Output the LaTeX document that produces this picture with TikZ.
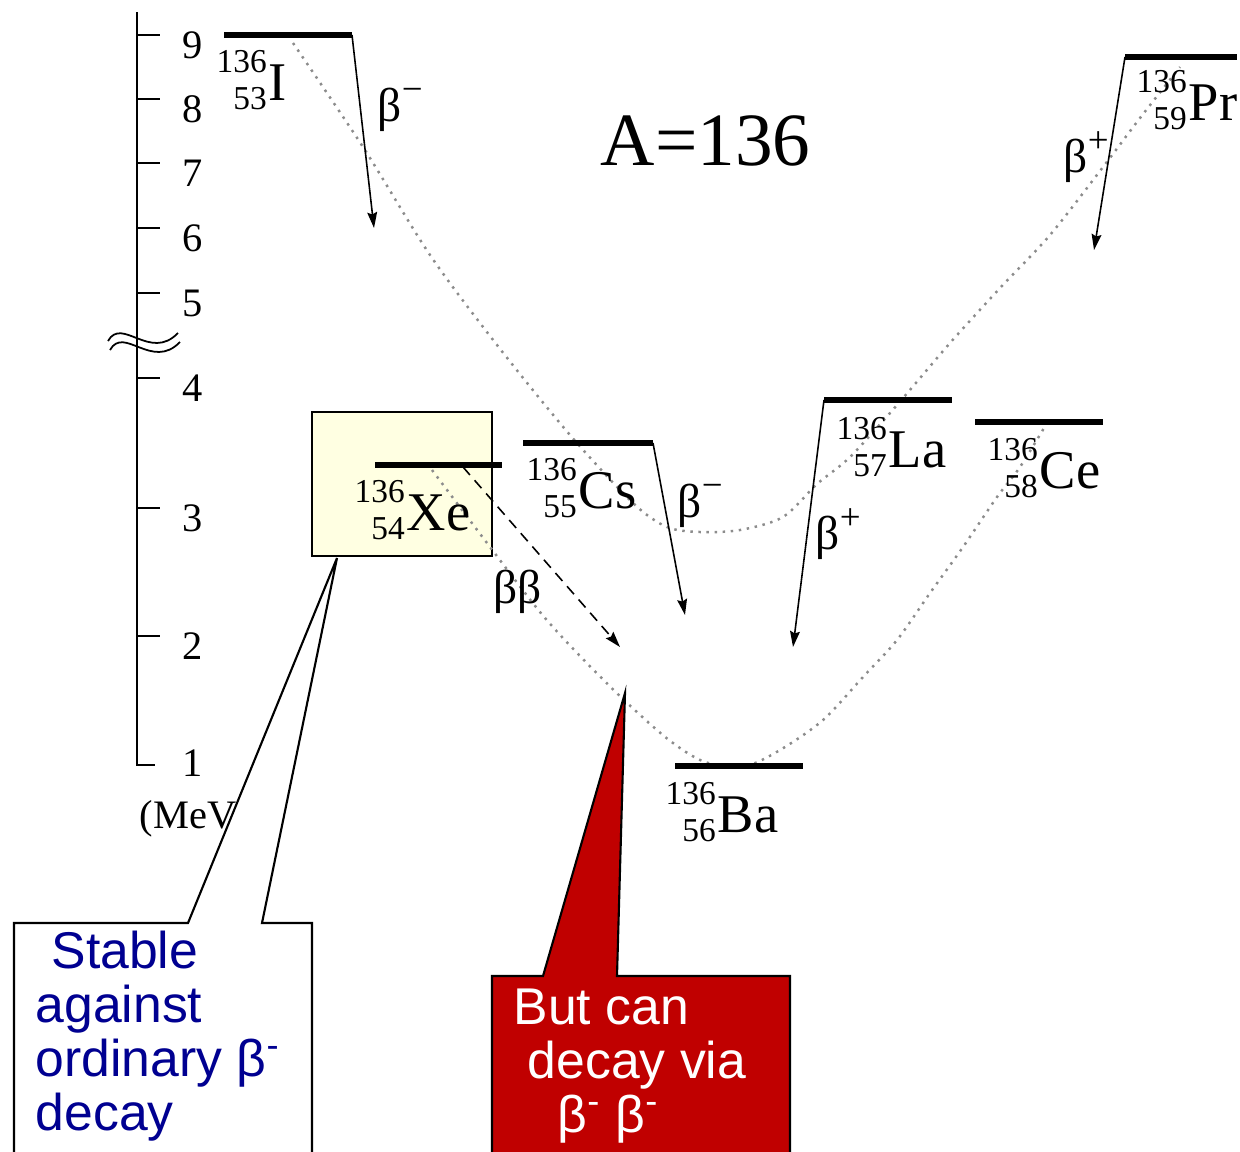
\documentclass[tikz,border=0pt]{standalone}
\usepackage{fontspec}
\setmainfont{Liberation Serif}
\newfontfamily\calloutfont{Liberation Sans}
\usetikzlibrary{arrows.meta}

\definecolor{xefill}{RGB}{255,255,226}
\definecolor{callblue}{RGB}{0,0,145}
\definecolor{callred}{RGB}{192,0,0}
\definecolor{parabgray}{RGB}{140,140,140}

\newcommand{\nuc}[3]{\raisebox{-2.8pt}{\fontsize{9.5}{10.5}\selectfont\begin{tabular}[b]{@{}r@{}}#1\\#2\end{tabular}}\kern0.6pt#3}
\newcommand{\bsup}[1]{β\raisebox{5.5pt}{\fontsize{10.5}{11}\selectfont#1}}

\begin{document}
\begin{tikzpicture}[
  x=0.01cm, y=-0.01cm,
  >={Stealth[length=4.5pt,width=2.8pt,inset=0.6pt]},
  level/.style={line width=1.7pt},
  decay/.style={->, line width=0.45pt},
  parab/.style={parabgray, line width=0.7pt, dash pattern=on 0.7pt off 1.6pt},
  nucl/.style={anchor=base west, inner sep=0pt, font=\fontsize{15.5}{17}\selectfont},
  blabel/.style={anchor=base west, inner sep=0pt, font=\fontsize{13.5}{15}\selectfont},
  axtick/.style={line width=0.6pt},
  ticklabel/.style={anchor=west, inner sep=0pt, font=\fontsize{11.5}{13}\selectfont},
  callout/.style={draw=black, line width=0.6pt},
  calltext/.style={anchor=base west, inner sep=0pt, align=left, font=\calloutfont\fontsize{14.7}{15.3}\selectfont}
]
  \useasboundingbox (0,0) rectangle (1240,1151);
  \clip (0,0) rectangle (1240,1151);

  \draw[axtick] (137,12) -- (137,765) -- (155,765);
  \foreach \v/\py in {9/35,8/99,7/163,6/228,5/293,4/378,3/508,2/636} {
    \draw[axtick] (137,\py) -- (160,\py);
    \node[ticklabel] (lab\v) at (182,\py+10) {\v};
  }
  \node[ticklabel] (lab1) at (182,763) {1};
  \node[ticklabel, anchor=base west] (unit) at (139,828) {(MeV)};
  \draw[line width=0.5pt] (108,341) .. controls (122,316) and (150,362) .. (178,333);
  \draw[line width=0.5pt] (110,350) .. controls (124,325) and (152,371) .. (180,342);

  \node[draw, line width=0.6pt, fill=xefill, minimum width=1.8cm, minimum height=1.44cm] (xebox) at (402,484) {};

  \draw[parab] plot[smooth, tension=0.5] coordinates {(293,43) (363,147) (430,255) (497,345) (570,435) (633,503) (667,527) (700,532) (740,530) (783,517) (817,484) (850,457) (897,405) (950,343) (1000,288) (1050,235) (1103,167) (1140,118) (1180,67)};
  \draw[parab] plot[smooth, tension=0.5] coordinates {(432,470) (487,543) (540,612) (579,655) (624,700) (669,740) (705,762) (745,766) (780,750) (823,720) (863,677) (897,640) (930,593) (963,547) (997,497) (1020,467) (1047,423)};

  \coordinate (I-l) at (224,35);  \coordinate (I-r) at (352,35);
  \coordinate (Xe-l) at (375,465); \coordinate (Xe-r) at (502,465);
  \coordinate (Cs-l) at (523,443); \coordinate (Cs-r) at (653,443);
  \coordinate (La-l) at (824,400); \coordinate (La-r) at (952,400);
  \coordinate (Ce-l) at (975,422); \coordinate (Ce-r) at (1103,422);
  \coordinate (Pr-l) at (1125,57); \coordinate (Pr-r) at (1237,57);
  \coordinate (Ba-l) at (675,766); \coordinate (Ba-r) at (803,766);

  \draw[level] (I-l) -- (I-r);
  \draw[level] (Xe-l) -- (Xe-r);
  \draw[level] (Cs-l) -- (Cs-r);
  \draw[level] (La-l) -- (La-r);
  \draw[level] (Ce-l) -- (Ce-r);
  \draw[level] (Pr-l) -- (Pr-r);
  \draw[level] (Ba-l) -- (Ba-r);

  \coordinate (I-end) at (374,228);
  \coordinate (Cs-end) at (685,615);
  \coordinate (La-end) at (793,647);
  \coordinate (Pr-end) at (1094,250);
  \coordinate (bb-start) at (463,467);
  \coordinate (bb-end) at (620,647);

  \draw[decay] (I-r) -- (I-end);
  \draw[decay] (Cs-r) -- (Cs-end);
  \draw[decay] (La-l) -- (La-end);
  \draw[decay] (Pr-l) -- (Pr-end);
  \draw[decay, dash pattern=on 3pt off 2pt] (bb-start) -- (bb-end);

  \node[nucl] (I) at (216,100) {\nuc{136}{53}{I}};
  \node[nucl] (Xe) at (354,530) {\nuc{136}{54}{Xe}};
  \node[nucl] (Cs) at (526,508) {\nuc{136}{55}{Cs}};
  \node[nucl] (La) at (836,467) {\nuc{136}{57}{La}};
  \node[nucl] (Ce) at (987,488) {\nuc{136}{58}{Ce}};
  \node[nucl] (Pr) at (1136,120) {\nuc{136}{59}{Pr}};
  \node[nucl] (Ba) at (665,832) {\nuc{136}{56}{Ba}};

  \node[blabel] (bI) at (377,121) {\bsup{−}};
  \node[blabel] (bCs) at (677,517) {\bsup{−}};
  \node[blabel] (bLa) at (815,549) {\bsup{+}};
  \node[blabel] (bPr) at (1063,172) {\bsup{+}};
  \node[blabel] (bb) at (493,603) {ββ};

  \node[anchor=base west, inner sep=0pt, font=\fontsize{21.4}{24}\selectfont] (mass) at (600,165) {A=136};

  \coordinate (xetip) at (337,558);
  \coordinate (batip) at (625,693);
  \draw[callout, fill=white] (14,923) -- (188,923) -- (xetip) -- (262,923) -- (312,923) -- (312,1160) -- (14,1160) -- cycle;
  \draw[callout, fill=callred] (492,976) -- (543,976) -- (batip) -- (617,976) -- (790,976) -- (790,1160) -- (492,1160) -- cycle;

  \node[calltext, text=callblue] (stable) at (35,1130) {\hspace*{4.5pt}Stable\\against\\ordinary β\textsuperscript{-}\\decay};
  \node[calltext, text=white] (via) at (513,1132) {But can\\\hspace*{4pt}decay via\\\hspace*{12.5pt}β\textsuperscript{-} β\textsuperscript{-}};
\end{tikzpicture}
\end{document}
